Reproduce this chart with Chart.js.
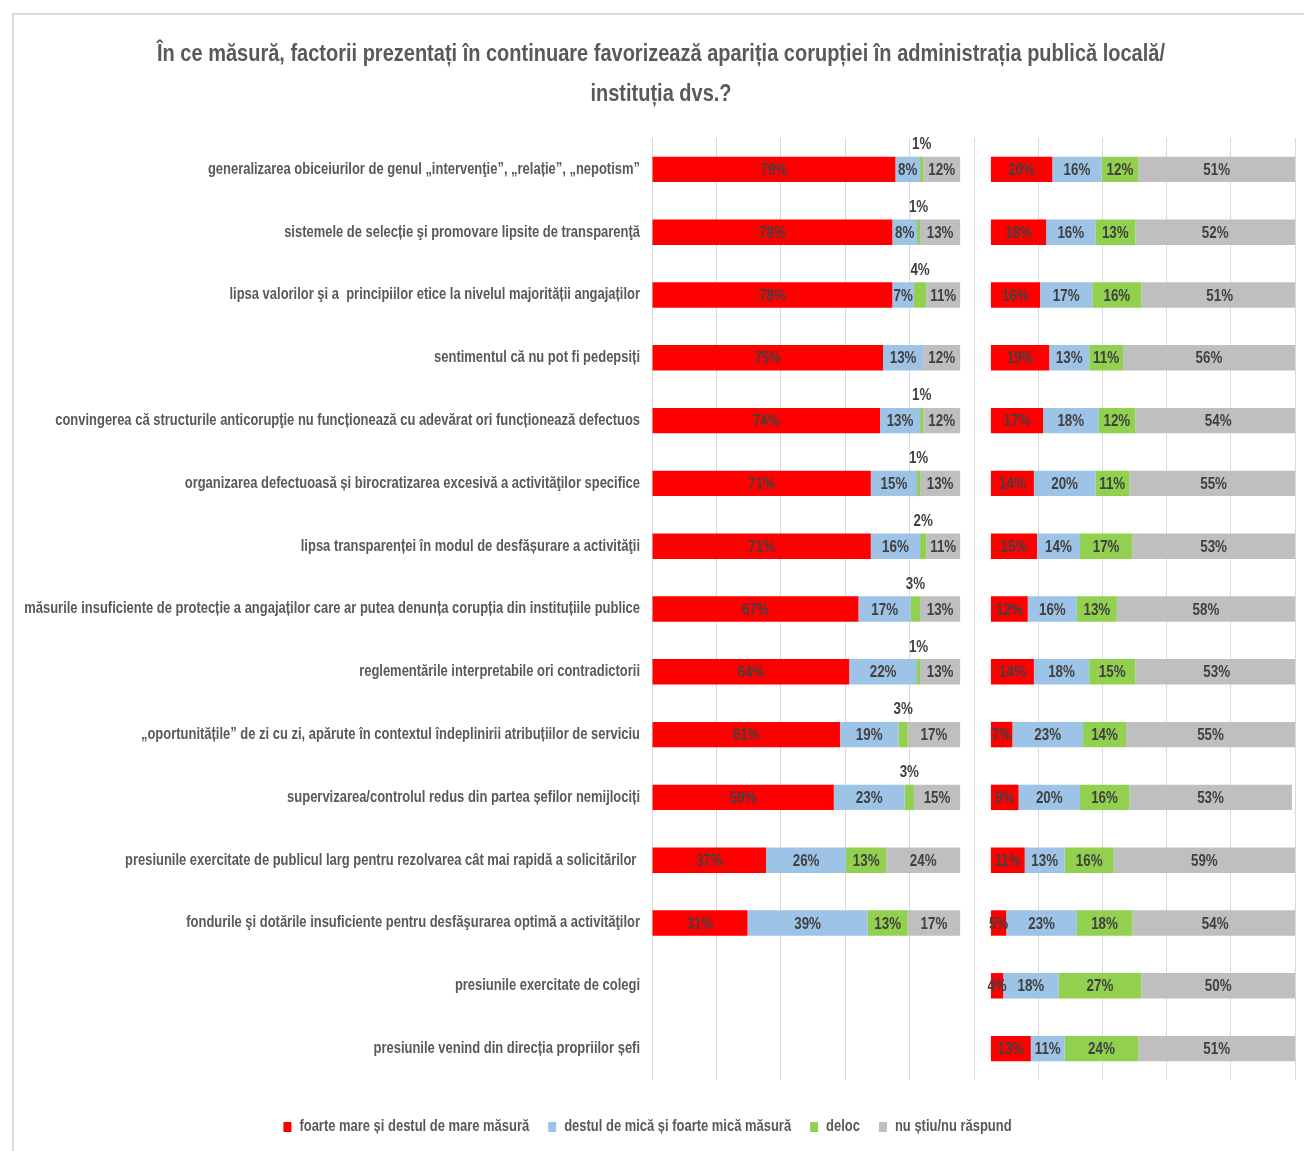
<!DOCTYPE html>
<html><head><meta charset="utf-8">
<script src="https://cdn.jsdelivr.net/npm/chart.js@4.4.1/dist/chart.umd.min.js"></script>
<style>
body{margin:0;background:#fff;}
#frame{position:absolute;left:12px;top:13px;width:1300px;height:1145px;border-top:2px solid #d9d9d9;border-left:2px solid #d9d9d9;}
#c{position:absolute;left:0;top:0;}
</style></head>
<body>
<div id="frame"></div>
<canvas id="c" width="1304" height="1151"></canvas>
<script>
const categories = [
  "generalizarea obiceiurilor de genul „intervenţie”, „relație”, „nepotism”",
  "sistemele de selecție şi promovare lipsite de transparenţă",
  "lipsa valorilor şi a  principiilor etice la nivelul majorității angajaților",
  "sentimentul că nu pot fi pedepsiți",
  "convingerea că structurile anticorupţie nu funcționează cu adevărat ori funcționează defectuos",
  "organizarea defectuoasă și birocratizarea excesivă a activităţilor specifice",
  "lipsa transparenței în modul de desfășurare a activităţii",
  "măsurile insuficiente de protecție a angajaților care ar putea denunța corupția din instituțiile publice",
  "reglementările interpretabile ori contradictorii",
  "„oportunitățile” de zi cu zi, apărute în contextul îndeplinirii atribuțiilor de serviciu",
  "supervizarea/controlul redus din partea șefilor nemijlociți",
  "presiunile exercitate de publicul larg pentru rezolvarea cât mai rapidă a solicitărilor ",
  "fondurile şi dotările insuficiente pentru desfăşurarea optimă a activităţilor",
  "presiunile exercitate de colegi",
  "presiunile venind din direcția propriilor șefi"
];
const seriesNames = ["foarte mare și destul de mare măsură","destul de mică și foarte mică măsură","deloc","nu știu/nu răspund"];
const titleLines = ["În ce măsură, factorii prezentați în continuare favorizează apariția corupției în administrația publică locală/","instituția dvs.?"];
// left panel
const leftMare   = [79,78,78,75,74,71,71,67,64,61,59,37,31,null,null];
const leftMica   = [8,8,7,13,13,15,16,17,22,19,23,26,39,null,null];
const leftDeloc  = [1,1,4,0,1,1,2,3,1,3,3,13,13,null,null];
const leftNuStiu = [12,13,11,12,12,13,11,13,13,17,15,24,17,null,null];
// right panel
const rightMare   = [20,18,16,19,17,14,15,12,14,7,9,11,5,4,13];
const rightMica   = [16,16,17,13,18,20,14,16,18,23,20,13,23,18,11];
const rightDeloc  = [12,13,16,11,12,11,17,13,15,14,16,16,18,27,24];
const rightNuStiu = [51,52,51,56,54,55,53,58,53,55,53,59,54,50,51];

const colors = ["#FF0000","#9DC3E6","#92D050","#BFBFBF"];
const FONT = '"Liberation Sans", Arial, sans-serif';
const SX = 0.81; // horizontal condensing of all text (narrow face look)

const canvas=document.getElementById('c');
const ctx=canvas.getContext('2d');
const _fill=ctx.fillText.bind(ctx), _measure=ctx.measureText.bind(ctx);
ctx.fillText=function(t,x,y,mw){ctx.save();ctx.translate(x,y);ctx.scale(SX,1);if(mw===undefined||mw===null)_fill(t,0,0);else _fill(t,0,0,mw/SX);ctx.restore();};
ctx.measureText=function(t){const m=_measure(t);return{width:m.width*SX,actualBoundingBoxAscent:m.actualBoundingBoxAscent,actualBoundingBoxDescent:m.actualBoundingBoxDescent,actualBoundingBoxLeft:m.actualBoundingBoxLeft*SX,actualBoundingBoxRight:m.actualBoundingBoxRight*SX,fontBoundingBoxAscent:m.fontBoundingBoxAscent,fontBoundingBoxDescent:m.fontBoundingBoxDescent};};

const leftData=[leftMare,leftMica,leftDeloc,leftNuStiu];
const rightData=[rightMare,rightMica,rightDeloc,rightNuStiu];
const datasets=[];
leftData.forEach((d,i)=>datasets.push({label:seriesNames[i],data:d,backgroundColor:colors[i],xAxisID:'xL',stack:'s',panel:'L',barPercentage:0.5,categoryPercentage:0.81}));
rightData.forEach((d,i)=>datasets.push({label:seriesNames[i],data:d,backgroundColor:colors[i],xAxisID:'xR',stack:'s',panel:'R',barPercentage:0.5,categoryPercentage:0.81}));

const labelPlugin={
  id:'segLabels',
  afterLayout(chart){ if(chart.titleBlock){ chart.titleBlock.left += 27; } },
  afterDatasetsDraw(chart){
    const c=chart.ctx;c.save();
    c.font='bold 16.5px '+FONT;c.fillStyle='#404040';c.textAlign='center';c.textBaseline='middle';
    chart.data.datasets.forEach((ds,i)=>{
      const meta=chart.getDatasetMeta(i);
      meta.data.forEach((bar,j)=>{
        const v=ds.data[j]; if(v==null||v===0) return;
        const p=bar.getProps(['x','y','base','height'],true);
        const cx=(p.x+p.base)/2;
        if(ds.panel==='L'&&v<5) c.fillText(v+'%',cx,p.y-p.height/2-12);
        else c.fillText(v+'%',cx,p.y+1);
      });
    });
    c.restore();
  }
};

function fixedTicks(min,step,n){return function(scale){const t=[];for(let k=0;k<=n;k++)t.push({value:+(min+k*step).toFixed(3)});scale.ticks=t;};}

new Chart(ctx,{
  type:'bar',
  data:{labels:categories,datasets},
  plugins:[labelPlugin],
  options:{
    responsive:false,animation:false,indexAxis:'y',
    layout:{padding:{left:0,right:9,top:0,bottom:6}},
    scales:{
      y:{type:'category',stacked:true,grid:{display:false,drawTicks:false},border:{display:false},
         ticks:{color:'#595959',font:{family:FONT,size:16,weight:'bold'},padding:12},
         afterFit(s){s.width=652;}},
      xL:{type:'linear',position:'bottom',stack:'x',stackWeight:322,stacked:true,min:0,max:104.5,
          afterBuildTicks:fixedTicks(0,20.9,5),
          grid:{color:'#d9d9d9',drawTicks:false},border:{display:false},ticks:{display:false},
          afterFit(s){s.height=20;}},
      xR:{type:'linear',position:'bottom',stack:'x',stackWeight:321,stacked:true,min:-5.5,max:99,
          afterBuildTicks:fixedTicks(-5.5,20.9,5),
          grid:{color:'#d9d9d9',drawTicks:false},border:{display:false},ticks:{display:false},
          afterFit(s){s.height=20;}}
    },
    plugins:{
      title:{display:true,text:titleLines,
        color:'#595959',font:{family:FONT,size:24.7,weight:'bold',lineHeight:40/24.7},padding:{top:34,bottom:24}},
      legend:{position:'bottom',
        labels:{color:'#595959',font:{family:FONT,size:16,weight:'bold'},boxWidth:8,boxHeight:10,padding:19,
          filter:(item)=>item.datasetIndex<4}},
      tooltip:{enabled:false}
    }
  }
});
</script>
</body></html>
